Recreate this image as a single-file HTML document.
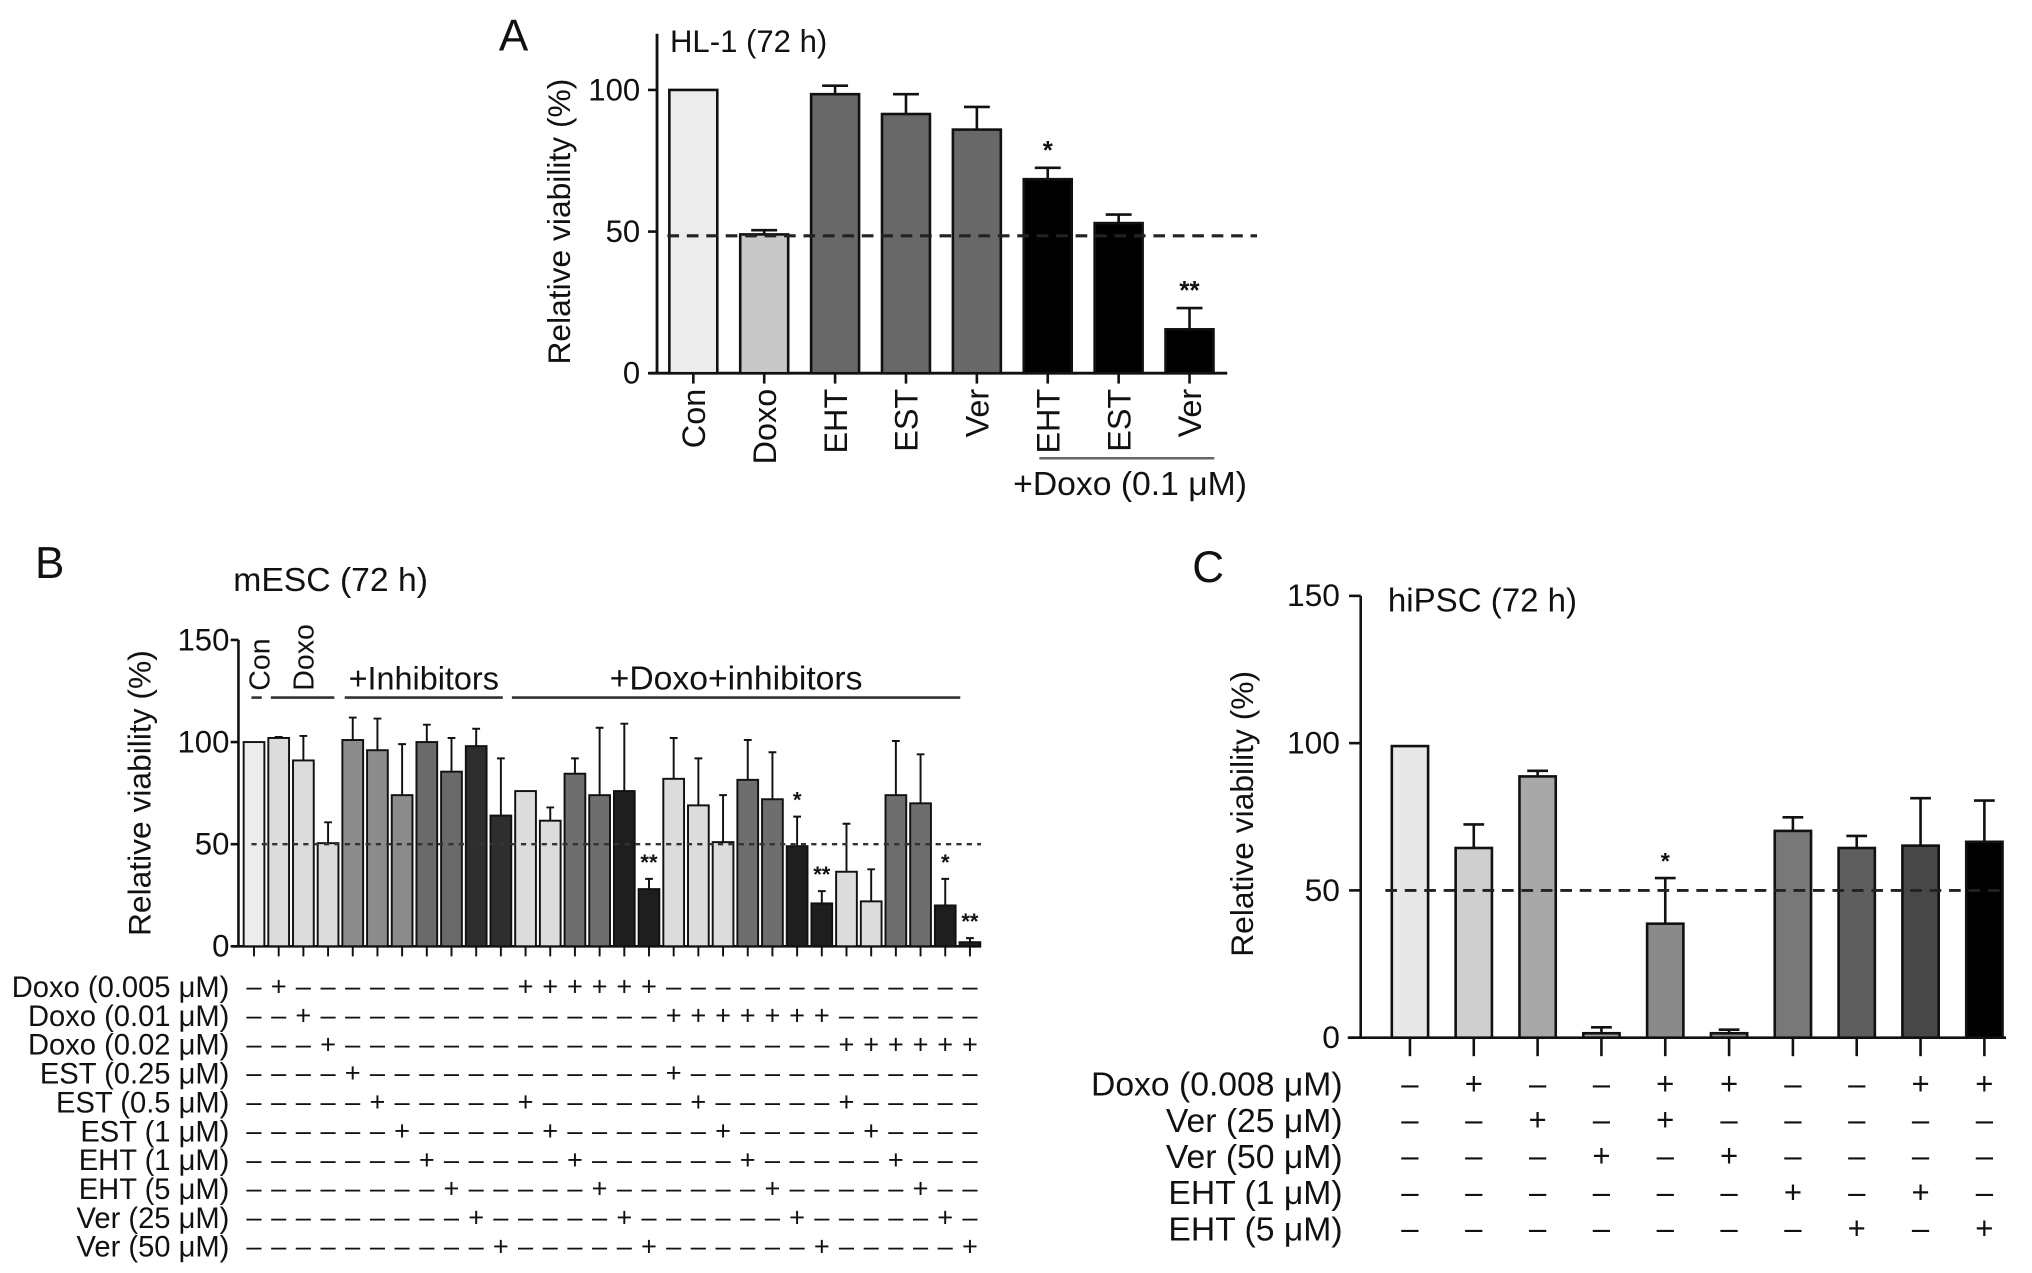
<!DOCTYPE html>
<html><head><meta charset="utf-8"><style>
html,body{margin:0;padding:0;background:#fff}
svg{display:block}
text{font-family:"Liberation Sans",Arial,sans-serif;fill:#111}
</style></head>
<body>
<svg id="fig" width="2032" height="1273" viewBox="0 0 1568 982.3" preserveAspectRatio="none" xmlns="http://www.w3.org/2000/svg">
<g id="pa"></g>
<g id="pb"></g>
<g id="pc"></g>
</svg>
<script>
// ---------- Panel A data ----------
const aCats = ["Con","Doxo","EHT","EST","Ver","EHT","EST","Ver"];
const aVals = [100,49,98.5,91.5,86,68.5,53,15.5];
const aErr  = [100,50.5,101.5,98.5,94,72.5,56,23];
const aStars = ["","","","","","*","","**"];
const aColors = ["#ececec","#c8c8c8","#686868","#686868","#686868","#000","#000","#000"];
const aTicks = [0,50,100];

// ---------- Panel B data ----------
const bVals = [100,102,91,50.5,101,96,74,100,85.5,98,64,76,61.5,84.5,74,76,28,82,69,51,81.5,72,49,21,36.5,22,74,70,20,2];
const bErr  = [100,102.5,103,60.7,112,111.5,99,108.5,102,106.5,92,76,68,92,107,109,33,102,92,74,101,95,63.5,27,60,37.7,100.5,94,33,4];
const bStars = ["","","","","","","","","","","","","","","","","**","","","","","","*","**","","","","","*","**"];
const bColors = ["#ececec","#dcdcdc","#dcdcdc","#dcdcdc","#8c8c8c","#8c8c8c","#8c8c8c","#6a6a6a","#6a6a6a","#2e2e2e","#2e2e2e",
 "#dcdcdc","#dcdcdc","#6e6e6e","#6e6e6e","#1e1e1e","#1e1e1e",
 "#dcdcdc","#dcdcdc","#dcdcdc","#6e6e6e","#6e6e6e","#1e1e1e","#1e1e1e",
 "#dcdcdc","#dcdcdc","#6e6e6e","#6e6e6e","#1e1e1e","#1e1e1e"];
const bTicks = [0,50,100,150];
const bRows = ["Doxo (0.005 μM)","Doxo (0.01 μM)","Doxo (0.02 μM)","EST (0.25 μM)","EST (0.5 μM)","EST (1 μM)","EHT (1 μM)","EHT (5 μM)","Ver (25 μM)","Ver (50 μM)"];
const bColDoxo = [-1,0,1,2,-1,-1,-1,-1,-1,-1,-1,0,0,0,0,0,0,1,1,1,1,1,1,1,2,2,2,2,2,2];
const bColInhib = [-1,-1,-1,-1,3,4,5,6,7,8,9,4,5,6,7,8,9,3,4,5,6,7,8,9,4,5,6,7,8,9];

// ---------- Panel C data ----------
const cVals = [99,64.4,88.7,1.5,38.7,1.5,70.2,64.4,65.2,66.5];
const cErr  = [99,72.4,90.6,3.5,54.2,2.7,74.8,68.5,81.3,80.5];
const cStars = ["","","","","*","","","","",""];
const cColors = ["#e8e8e8","#cfcfcf","#a8a8a8","#999","#8a8a8a","#888","#787878","#5e5e5e","#474747","#000"];
const cTicks = [0,50,100,150];
const cRows = ["Doxo (0.008 μM)","Ver (25 μM)","Ver (50 μM)","EHT (1 μM)","EHT (5 μM)"];
const cRowSigns = [
 "-+--++--++",
 "--+-+-----",
 "---+-+----",
 "------+-+-",
 "-------+-+"];

const NS="http://www.w3.org/2000/svg";
function mk(parent,tag,attrs,txt){const e=document.createElementNS(NS,tag);for(const k in attrs)e.setAttribute(k,attrs[k]);if(txt!==undefined)e.textContent=txt;parent.appendChild(e);return e;}

function drawBars(g,vals,err,stars,colors,xf,yf,bw,capw,sw,starSize,prefix){
  vals.forEach((v,i)=>{
    const cx=xf(i);
    const r=mk(g,"rect",{x:cx-bw/2,y:yf(v),width:bw,height:Math.max(yf(0)-yf(v),1),fill:colors[i],stroke:"#111","stroke-width":sw});
    
    
    if(err[i]>v+0.3){
      const l=mk(g,"path",{d:`M${cx},${yf(v)} V${yf(err[i])} M${cx-capw/2},${yf(err[i])} H${cx+capw/2}`,stroke:"#111","stroke-width":sw,fill:"none"});
      
      
    }
    if(stars[i]){
      const t=mk(g,"text",{x:cx,y:yf(err[i])-7,"text-anchor":"middle","font-size":starSize,"font-weight":"bold"},stars[i]);
      
      
    }
  });
}

// ---------- Panel A ----------
(function(){
  const g=document.getElementById('pa');
  const y0=288, y100=69.4;
  const yf=v=>y0-(y0-y100)*v/100;
  const xf=i=>535+54.7*i;
  mk(g,"text",{x:385,y:39,"font-size":34},"A");
  mk(g,"text",{x:517,y:40,"font-size":24},"HL-1 (72 h)");
  mk(g,"path",{d:`M507,26 V${y0} M501,${y0} H947`,stroke:"#111","stroke-width":2.2,fill:"none"});
  aTicks.forEach(t=>{
    mk(g,"path",{d:`M500,${yf(t)} H507`,stroke:"#111","stroke-width":2});
    const tl=mk(g,"text",{x:494,y:yf(t)+8,"text-anchor":"end","font-size":24},String(t));
    
    
  });
  const yl=mk(g,"text",{transform:`translate(440,${(y0+26)/2+14}) rotate(-90)`,"text-anchor":"middle","font-size":24.5},"Relative viability (%)");
  
  drawBars(g,aVals,aErr,aStars,aColors,xf,yf,37,20,2,20,'panel-a');
  mk(g,"line",{x1:515,x2:970,y1:yf(48.5),y2:yf(48.5),stroke:"#222","stroke-width":2.4,"stroke-dasharray":"9,6"});
  aCats.forEach((c,i)=>{
    mk(g,"path",{d:`M${xf(i)},${y0} V296`,stroke:"#111","stroke-width":2});
    const t=mk(g,"text",{transform:`translate(${xf(i)+9},300) rotate(-90)`,"text-anchor":"end","font-size":25},c);
    
    
  });
  mk(g,"line",{x1:802,x2:937,y1:353.6,y2:353.6,stroke:"#666","stroke-width":2});
  mk(g,"text",{x:872,y:382,"text-anchor":"middle","font-size":26},"+Doxo (0.1 μM)");
})();

// ---------- Panel B ----------
(function(){
  const g=document.getElementById('pb');
  const y0=730.2, y150=493.8;
  const yf=v=>y0-(y0-y150)*v/150;
  const xf=i=>196+19.05*i;
  mk(g,"text",{x:27,y:446,"font-size":34},"B");
  mk(g,"text",{x:180,y:456,"font-size":26},"mESC (72 h)");
  mk(g,"path",{d:`M184,${y150} V${y0} M179,${y0} H757`,stroke:"#111","stroke-width":2,fill:"none"});
  bTicks.forEach(t=>{
    mk(g,"path",{d:`M178,${yf(t)} H184`,stroke:"#111","stroke-width":2});
    const tl=mk(g,"text",{x:177,y:yf(t)+8,"text-anchor":"end","font-size":24},String(t));
    
    
  });
  mk(g,"text",{transform:`translate(116,${(y0+y150)/2}) rotate(-90)`,"text-anchor":"middle","font-size":24.5},"Relative viability (%)");
  drawBars(g,bVals,bErr,bStars,bColors,xf,yf,16,6,1.5,17,'panel-b');
  mk(g,"line",{x1:194,x2:757,y1:yf(50),y2:yf(50),stroke:"#333","stroke-width":1.8,"stroke-dasharray":"4,4"});
  bVals.forEach((v,i)=>{ mk(g,"path",{d:`M${xf(i)},${y0} V738`,stroke:"#111","stroke-width":1.5}); });
  mk(g,"line",{x1:194,x2:202,y1:538.3,y2:538.3,stroke:"#333","stroke-width":2});
  mk(g,"line",{x1:209,x2:258,y1:538.3,y2:538.3,stroke:"#333","stroke-width":2});
  mk(g,"line",{x1:266,x2:388,y1:538.3,y2:538.3,stroke:"#333","stroke-width":2});
  mk(g,"line",{x1:395,x2:741,y1:538.3,y2:538.3,stroke:"#333","stroke-width":2});
  mk(g,"text",{transform:"translate(208,533) rotate(-90)","font-size":22},"Con");
  mk(g,"text",{transform:"translate(242,533) rotate(-90)","font-size":22},"Doxo");
  mk(g,"text",{x:327,y:532,"text-anchor":"middle","font-size":25},"+Inhibitors");
  mk(g,"text",{x:568,y:532,"text-anchor":"middle","font-size":26},"+Doxo+inhibitors");
  bRows.forEach((r,ri)=>{
    const cy=761.3+22.27*ri;
    const t=mk(g,"text",{x:177,y:cy+8,"text-anchor":"end","font-size":22.5},r);
    
    
    bColDoxo.forEach((d,ci)=>{
      const plus=(d===ri)||(bColInhib[ci]===ri);
      mk(g,"text",{x:xf(ci),y:cy+7,"text-anchor":"middle","font-size":21},plus?"+":"–");
    });
  });
})();

// ---------- Panel C ----------
(function(){
  const g=document.getElementById('pc');
  const y0=800.7, y150=459.8;
  const yf=v=>y0-(y0-y150)*v/150;
  const xf=i=>1088+49.25*i;
  mk(g,"text",{x:920,y:449,"font-size":34},"C");
  mk(g,"text",{x:1071,y:472,"font-size":25.5},"hiPSC (72 h)");
  mk(g,"path",{d:`M1050,${y150} V${y0} M1040,${y0} H1548`,stroke:"#111","stroke-width":2,fill:"none"});
  cTicks.forEach(t=>{
    mk(g,"path",{d:`M1041,${yf(t)} H1050`,stroke:"#111","stroke-width":2});
    const tl=mk(g,"text",{x:1034,y:yf(t)+8,"text-anchor":"end","font-size":24.5},String(t));
    
    
  });
  mk(g,"text",{transform:`translate(967,628) rotate(-90)`,"text-anchor":"middle","font-size":24.5},"Relative viability (%)");
  drawBars(g,cVals,cErr,cStars,cColors,xf,yf,28,16,2,18,'panel-c');
  mk(g,"line",{x1:1069,x2:1548,y1:yf(50),y2:yf(50),stroke:"#222","stroke-width":2.2,"stroke-dasharray":"9,6"});
  cVals.forEach((v,i)=>{ mk(g,"path",{d:`M${xf(i)},${y0} V815`,stroke:"#111","stroke-width":2}); });
  cRows.forEach((r,ri)=>{
    const cy=836.5+27.9*ri;
    const t=mk(g,"text",{x:1036,y:cy+9,"text-anchor":"end","font-size":26},r);
    
    
    cRowSigns[ri].split("").forEach((s,ci)=>{
      mk(g,"text",{x:xf(ci),y:cy+8,"text-anchor":"middle","font-size":24},s==="+"?"+":"–");
    });
  });
})();
</script>
</body></html>
